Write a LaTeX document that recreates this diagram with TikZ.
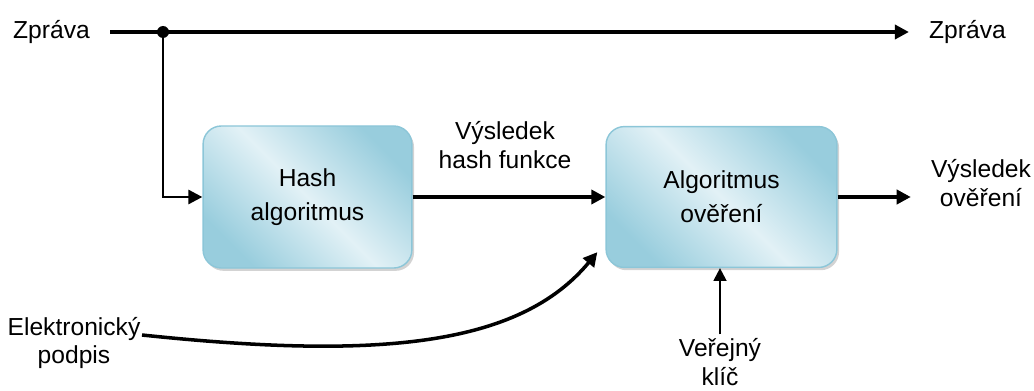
\documentclass[tikz,border=0pt]{standalone}
\usepackage{fontspec}
\setmainfont{Liberation Sans}
\usepackage{xcolor}
\usetikzlibrary{arrows.meta,positioning,calc,shadows}
\definecolor{boxedge}{HTML}{8CC6D8}
\definecolor{boxdark}{HTML}{98CDDD}
\definecolor{boxlight}{HTML}{E2F1F6}
\tikzset{
  blk/.style={draw=boxedge,line width=1pt,rounded corners=13pt,align=center,
              font=\fontsize{17.5}{24}\selectfont,inner sep=3pt,
              top color=boxdark,bottom color=boxdark,middle color=boxlight,shading angle=-45,
              drop shadow={shadow xshift=1.5pt,shadow yshift=-2pt,opacity=0.35,fill=gray}},
  lbl/.style={align=center,font=\fontsize{17.5}{20}\selectfont,inner xsep=0.5cm,inner ysep=3pt},
  arr/.style={-{Triangle[length=10pt,width=10pt]},line width=2.5pt},
  tarr/.style={arr,line width=1.6pt,-{Triangle[length=9pt,width=9pt]}},
}
\begin{document}
\begin{tikzpicture}[x=0.025cm,y=0.025cm]
  \useasboundingbox (0,0) rectangle (1034,390);
  % labels
  \node[lbl] (zprava) at (51.5,358) {Zpráva};
  \node[lbl] (zpravaout) at (967.5,358) {Zpráva};
  \node[lbl] (hashout) at (505,245) {Výsledek\\hash funkce};
  \node[lbl] (vysledek) at (981,207) {Výsledek\\ověření};
  \node[lbl,inner xsep=1pt] (podpis) at (74,47) {Elektronický\\podpis};
  \node[lbl,inner xsep=2pt] (klic) at (720,28) {Veřejný\\klíč};
  % boxes
  \node[blk,minimum width=5.22cm,minimum height=3.55cm] (hash) at (307.5,193) {Hash\\algoritmus};
  \node[blk,minimum width=5.77cm,minimum height=3.52cm] (overeni) at (721.5,193) {Algoritmus\\ověření};
  \coordinate (split) at (163,358);
  % connectors
  \draw[arr] (zprava.east) -- (zpravaout.west);
  \fill (split) circle (6);
  \draw[arr,line width=2pt] (split) |- (hash.west);
  \draw[arr] (hash.east) -- (overeni.west);
  \draw[arr] (overeni.east) -- (overeni.east -| vysledek.west);
  \draw[tarr] (klic.north) -- (klic.north |- overeni.south);
  \draw[arr] ([yshift=0.2cm]podpis.east) .. controls +(237,-25) and +(-78,-94) .. ([shift={(-8,16)}]overeni.south west);
\end{tikzpicture}
\end{document}
